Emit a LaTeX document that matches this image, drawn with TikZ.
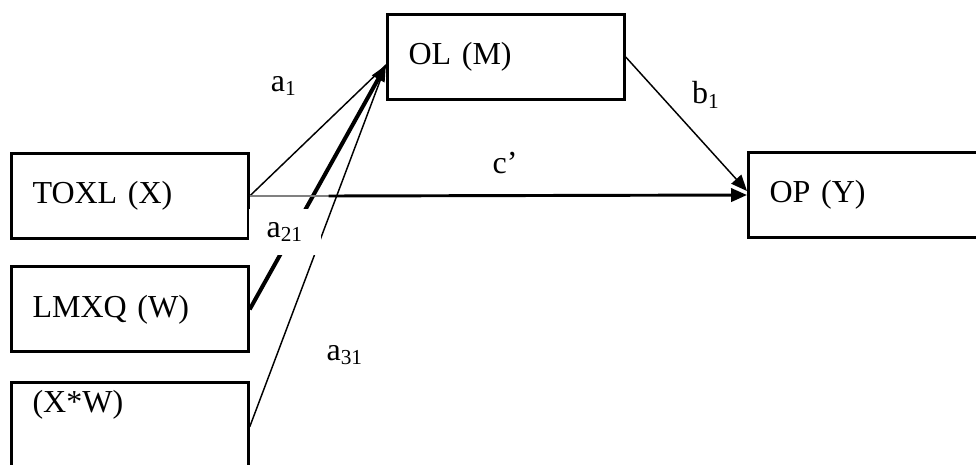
\documentclass[tikz,border=0pt]{standalone}
\usepackage{fontspec}
\setmainfont{Liberation Serif}
\usetikzlibrary{positioning,arrows.meta,calc}

\begin{document}
\begin{tikzpicture}[
    x=0.375pt, y=-0.375pt,
    font=\fontsize{12}{14}\selectfont,
    box/.style={draw, line width=1.1pt, anchor=north west, align=left, text width=73pt, inner xsep=7.9pt, minimum height=31.9pt},
    arrow/.style={-{Triangle[length=6pt, width=5pt]}, line width=0.55pt},
    thinline/.style={line width=0.55pt},
    thickarrow/.style={-{Triangle[length=6pt, width=5pt]}, line width=1.1pt},
    lbl/.style={inner sep=1pt}
]
\clip (0,0) rectangle (976,464);
\node[box] (toxl) at (10,152) {TOXL (X)};
\node[box, below=9.5pt of toxl] (lmxq) {LMXQ (W)};
\node[box, below=10.5pt of lmxq, text height=9pt, text depth=20pt, inner ysep=2pt] (xw) {(X*W)};
\node[box] (ol) at (386,13) {OL (M)};
\node[box] (op) at (747,151) {OP (Y)};

\coordinate (mtip) at ($(ol.west)+(0,8)$);
\coordinate (cstart) at ($(toxl.east)+(79,0)$);

\draw[thinline] (toxl.east) -- (mtip);
\draw[thinline] (xw.east) -- (mtip);
\draw[arrow, line width=1.5pt] (lmxq.east) -- (mtip);
\draw[gray, line width=0.4pt] (toxl.east) -- (cstart);
\draw[thickarrow] (cstart) -- (op.west);
\draw[arrow] (ol.east) -- ($(op.west)+(0,-4)$);

\node[lbl] (a1) at (284,86) {a\textsubscript{1}};
\node[lbl, fill=white, inner xsep=6.5pt, inner ysep=5pt] (a21) at (285,232) {a\textsubscript{21}};
\node[lbl] (a31) at (345,355) {a\textsubscript{31}};
\node[lbl] (b1) at (706,95) {b\textsubscript{1}};
\node[lbl] (c) at (505,163) {c’};
\end{tikzpicture}
\end{document}
